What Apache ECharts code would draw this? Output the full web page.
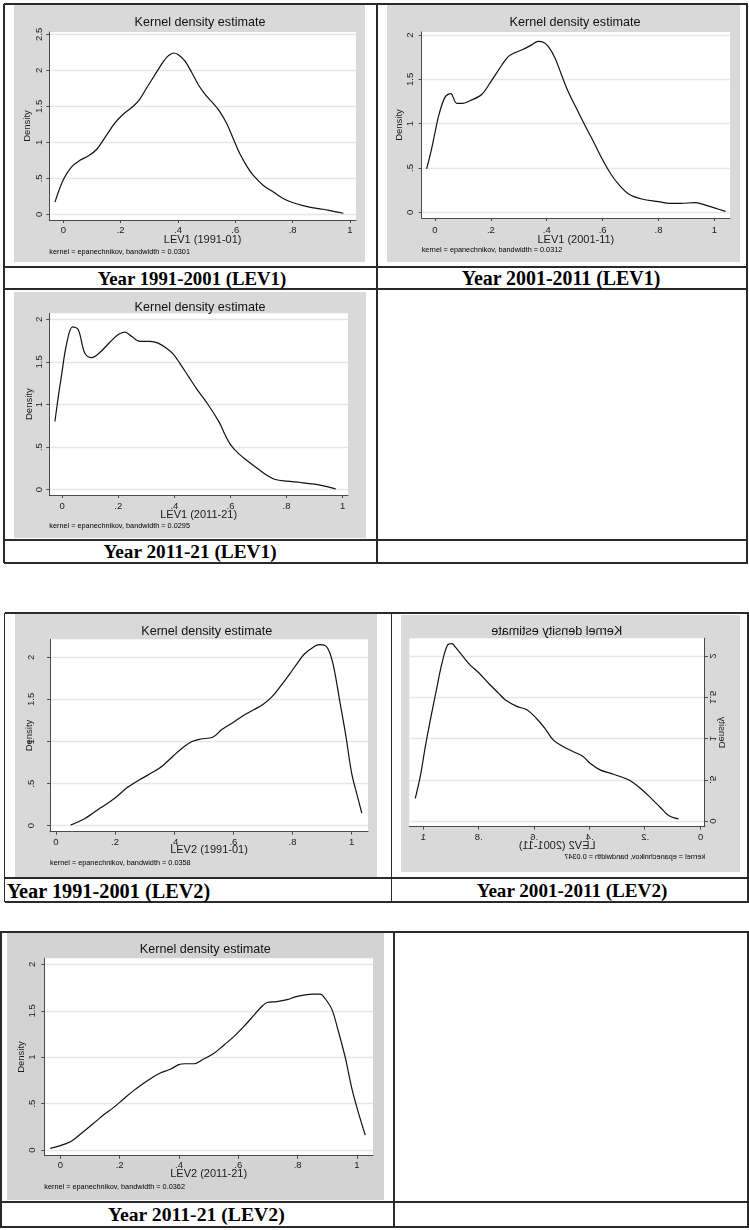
<!DOCTYPE html>
<html>
<head>
<meta charset="utf-8">
<title>Kernel density estimates of LEV1 and LEV2</title>
<script src="https://cdn.jsdelivr.net/npm/echarts@6/dist/echarts.min.js"></script>
<style>
  html, body { margin: 0; padding: 0; background: #fff; }
  body { width: 749px; height: 1230px; position: relative; overflow: hidden; }
  .panel { position: absolute; }
  .rule { position: absolute; background: #2a2a2a; }
  .cap {
    position: absolute; white-space: nowrap; line-height: 1; color: #000;
    font-family: "Liberation Serif", "Times New Roman", serif; font-weight: bold;
  }
</style>
</head>
<body>
<script>
// ---- shared axis ticks ----
const xTicks = [0, 0.2, 0.4, 0.6, 0.8, 1];
const yTicks25 = [0, 0.5, 1, 1.5, 2, 2.5];
const yTicks20 = [0, 0.5, 1, 1.5, 2];

// ---- LEV1, 1991-01 ----
const lev1_9101_x = [-0.029, 0, 0.029, 0.058, 0.087, 0.116, 0.151, 0.18, 0.209, 0.244, 0.267, 0.29, 0.32, 0.349, 0.366, 0.384, 0.40, 0.424, 0.448, 0.471, 0.494, 0.523, 0.547, 0.57, 0.593, 0.616, 0.64, 0.663, 0.698, 0.733, 0.767, 0.802, 0.837, 0.872, 0.907, 0.942, 0.977];
const lev1_9101_y = [0.17, 0.48, 0.66, 0.75, 0.81, 0.90, 1.10, 1.27, 1.39, 1.50, 1.60, 1.75, 1.94, 2.12, 2.20, 2.24, 2.22, 2.13, 1.97, 1.80, 1.67, 1.54, 1.42, 1.26, 1.05, 0.84, 0.67, 0.54, 0.40, 0.31, 0.22, 0.16, 0.12, 0.09, 0.07, 0.04, 0.015];

// ---- LEV1, 2001-11 ----
const lev1_0111_x = [-0.03, -0.012, 0, 0.014, 0.036, 0.056, 0.078, 0.098, 0.125, 0.167, 0.203, 0.239, 0.263, 0.286, 0.316, 0.346, 0.37, 0.388, 0.406, 0.43, 0.453, 0.477, 0.507, 0.537, 0.567, 0.597, 0.626, 0.656, 0.692, 0.74, 0.8, 0.84, 0.88, 0.93, 0.96, 1.0, 1.04];
const lev1_0111_y = [0.49, 0.72, 0.90, 1.10, 1.30, 1.34, 1.23, 1.23, 1.26, 1.33, 1.49, 1.66, 1.76, 1.80, 1.84, 1.89, 1.93, 1.92, 1.87, 1.74, 1.55, 1.36, 1.17, 0.98, 0.80, 0.61, 0.45, 0.32, 0.21, 0.15, 0.12, 0.10, 0.10, 0.11, 0.09, 0.05, 0.01];

// ---- LEV1, 2011-21 ----
const lev1_1121_x = [-0.026, -0.014, -0.002, 0.015, 0.037, 0.057, 0.081, 0.105, 0.134, 0.17, 0.2, 0.224, 0.247, 0.277, 0.313, 0.342, 0.372, 0.396, 0.42, 0.45, 0.48, 0.52, 0.56, 0.58, 0.6, 0.63, 0.66, 0.7, 0.73, 0.76, 0.8, 0.85, 0.9, 0.94, 0.975];
const lev1_1121_y = [0.80, 1.09, 1.35, 1.70, 1.91, 1.88, 1.60, 1.55, 1.61, 1.73, 1.82, 1.85, 1.80, 1.74, 1.74, 1.72, 1.66, 1.59, 1.48, 1.33, 1.18, 1.00, 0.79, 0.65, 0.53, 0.42, 0.34, 0.24, 0.17, 0.12, 0.10, 0.085, 0.065, 0.04, 0.01];

// ---- LEV2, 1991-01 ----
const lev2_9101_x = [0.05, 0.065, 0.1, 0.15, 0.2, 0.24, 0.28, 0.33, 0.36, 0.4, 0.43, 0.46, 0.49, 0.53, 0.56, 0.6, 0.63, 0.67, 0.70, 0.73, 0.76, 0.79, 0.82, 0.84, 0.87, 0.89, 0.91, 0.925, 0.94, 0.96, 0.98, 1.0, 1.02, 1.034];
const lev2_9101_y = [0.01, 0.03, 0.09, 0.21, 0.33, 0.45, 0.54, 0.64, 0.71, 0.84, 0.93, 1.00, 1.03, 1.05, 1.14, 1.23, 1.30, 1.38, 1.44, 1.53, 1.66, 1.80, 1.95, 2.04, 2.12, 2.15, 2.14, 2.06, 1.87, 1.47, 1.07, 0.62, 0.34, 0.15];

// ---- LEV2, 2001-11 ----
const lev2_0111_x = [1.029, 1.011, 0.993, 0.975, 0.954, 0.933, 0.913, 0.897, 0.885, 0.861, 0.831, 0.801, 0.765, 0.729, 0.705, 0.663, 0.627, 0.591, 0.561, 0.531, 0.495, 0.459, 0.423, 0.399, 0.363, 0.327, 0.291, 0.255, 0.219, 0.183, 0.147, 0.117, 0.08];
const lev2_0111_y = [0.275, 0.54, 0.90, 1.22, 1.57, 1.91, 2.13, 2.15, 2.11, 2.01, 1.89, 1.80, 1.67, 1.55, 1.47, 1.39, 1.35, 1.24, 1.12, 0.98, 0.90, 0.84, 0.78, 0.70, 0.62, 0.58, 0.54, 0.49, 0.40, 0.29, 0.17, 0.07, 0.025];

// ---- LEV2, 2011-21 ----
const lev2_1121_x = [-0.034, 0, 0.034, 0.056, 0.09, 0.124, 0.146, 0.18, 0.213, 0.247, 0.281, 0.309, 0.337, 0.371, 0.399, 0.421, 0.449, 0.483, 0.517, 0.551, 0.584, 0.618, 0.652, 0.674, 0.697, 0.73, 0.764, 0.792, 0.82, 0.854, 0.876, 0.893, 0.916, 0.938, 0.961, 0.983, 1.006, 1.028];
const lev2_1121_y = [0.018, 0.047, 0.09, 0.14, 0.23, 0.32, 0.38, 0.46, 0.55, 0.64, 0.72, 0.78, 0.83, 0.87, 0.92, 0.93, 0.93, 0.98, 1.04, 1.13, 1.22, 1.33, 1.45, 1.53, 1.59, 1.60, 1.62, 1.65, 1.67, 1.68, 1.68, 1.63, 1.51, 1.27, 0.99, 0.66, 0.39, 0.16];

// ---- panel texts ----
const plotTitle = 'Kernel density estimate';
const xTitles = ['LEV1 (1991-01)', 'LEV1 (2001-11)', 'LEV1 (2011-21)', 'LEV2 (1991-01)', 'LEV2 (2001-11)', 'LEV2 (2011-21)'];
const bandwidths = ['0.0301', '0.0312', '0.0295', '0.0358', '0.0347', '0.0362'];
const captions = ['Year 1991-2001 (LEV1)', 'Year 2001-2011 (LEV1)', 'Year 2011-21 (LEV1)', 'Year 1991-2001 (LEV2)', 'Year 2001-2011 (LEV2)', 'Year 2011-21 (LEV2)'];

const SANS = '"Liberation Sans", Arial, Helvetica, sans-serif';

function zip(xs, ys) { return xs.map((x, i) => [x, ys[i]]); }
function tickFmt(v) {
  if (v === 0) return '0';
  return String(+v.toFixed(2)).replace(/^0\./, '.');
}

// Layout of each graph: box = gray frame in page px, grid = plot region inside it.
// xlm/xng/ylm/yng: gaps of tick labels and axis titles from the axis lines.
const panels = [
  { xs: lev1_9101_x, ys: lev1_9101_y, box: [14, 5, 351, 257], bg: '#d9d9d9',
    grid: [35.3, 27, 306.7, 188], xr: [-0.0488, 1.021], yr: [-0.079, 2.532], yt: yTicks25,
    title: [186, 18], noteY: 247, xlm: 5, xng: 14.5, ylm: 4.5, yng: 16.5 },
  { xs: lev1_0111_x, ys: lev1_0111_y, box: [387, 5, 353, 257], bg: '#d9d9d9',
    grid: [34.7, 27, 308.3, 186], xr: [-0.0476, 1.056], yr: [-0.064, 2.035], yt: yTicks20,
    title: [188, 18], noteY: 245, xlm: 7, xng: 16.5, ylm: 6, yng: 17 },
  { xs: lev1_1121_x, ys: lev1_1121_y, box: [14, 292, 352, 246], bg: '#d9d9d9',
    grid: [35.3, 21.3, 298.7, 181.7], xr: [-0.046, 1.019], yr: [-0.062, 2.07], yt: yTicks20,
    title: [186, 16], noteY: 233.7, xlm: 6.5, xng: 14.5, ylm: 5.3, yng: 15.3 },
  { xs: lev2_9101_x, ys: lev2_9101_y, box: [15, 614, 362, 263], bg: '#d9d9d9',
    grid: [35, 25.3, 318, 192.4], xr: [-0.02, 1.055], yr: [-0.071, 2.214], yt: yTicks20,
    title: [191.7, 17.7], noteY: 248.7, xlm: 5.5, xng: 13, ylm: 13.5, yng: 15.3 },
  { xs: lev2_0111_x, ys: lev2_0111_y, box: [401, 615, 339, 257], bg: '#d9d9d9', mirror: true,
    grid: [35, 23.3, 295.7, 188.4], xr: [-0.0155, 1.0505], yr: [-0.069, 2.215], yt: yTicks20,
    title: [183.3, 16.7], noteY: 242.3, xlm: 5.5, xng: 14, ylm: 3, yng: 11.3 },
  { xs: lev2_1121_x, ys: lev2_1121_y, box: [6.7, 933, 376.7, 267], bg: '#d3d3d3',
    grid: [37.3, 25.3, 328.7, 197.4], xr: [-0.054, 1.054], yr: [-0.061, 2.066], yt: yTicks20,
    title: [198.3, 17], noteY: 253.7, xlm: 5, xng: 13, ylm: 6.5, yng: 17.5 }
];

function drawPanel(p, i) {
  const div = document.createElement('div');
  div.className = 'panel';
  div.style.left = p.box[0] + 'px';
  div.style.top = p.box[1] + 'px';
  div.style.width = p.box[2] + 'px';
  div.style.height = p.box[3] + 'px';
  div.style.background = p.bg;
  if (p.mirror) div.style.transform = 'scaleX(-1)';
  document.body.appendChild(div);

  const chart = echarts.init(div, null, { renderer: 'canvas' });
  const axisCol = '#4a4a4a';
  chart.setOption({
    animation: false,
    backgroundColor: p.bg,
    grid: {
      left: p.grid[0], top: p.grid[1], width: p.grid[2], height: p.grid[3],
      show: true, backgroundColor: '#ffffff', borderWidth: 0,
      containLabel: false, outerBoundsMode: 'none'
    },
    xAxis: {
      type: 'value', min: p.xr[0], max: p.xr[1],
      name: xTitles[i], nameLocation: 'middle', nameGap: p.xng, nameMoveOverlap: false,
      nameTextStyle: { fontFamily: SANS, fontSize: 11, color: '#1a1a1a' },
      axisLine: { show: true, onZero: false, lineStyle: { color: axisCol, width: 1 } },
      axisTick: { show: true, length: 3, customValues: xTicks, lineStyle: { color: axisCol } },
      axisLabel: { customValues: xTicks, formatter: tickFmt, fontFamily: SANS, fontSize: 9.5, color: '#1a1a1a', margin: p.xlm, hideOverlap: false },
      splitLine: { show: false }
    },
    yAxis: {
      type: 'value', min: p.yr[0], max: p.yr[1],
      name: 'Density', nameLocation: 'middle', nameGap: p.yng, nameMoveOverlap: false,
      nameTextStyle: { fontFamily: SANS, fontSize: 9.5, color: '#1a1a1a' },
      axisLine: { show: true, onZero: false, lineStyle: { color: axisCol, width: 1 } },
      axisTick: { show: true, length: 3, customValues: p.yt, lineStyle: { color: axisCol } },
      axisLabel: { customValues: p.yt, formatter: tickFmt, rotate: 90, fontFamily: SANS, fontSize: 9.5, color: '#1a1a1a', margin: p.ylm, hideOverlap: false },
      splitLine: { show: true, lineStyle: { color: '#e6e6e6', width: 1.3 } }
    },
    graphic: [
      { type: 'text', x: p.title[0], y: p.title[1], silent: true,
        style: { text: plotTitle, fontFamily: SANS, fontSize: 12.6, fill: '#111', align: 'center', verticalAlign: 'middle' } },
      { type: 'text', x: p.grid[0], y: p.noteY, silent: true,
        style: { text: 'kernel = epanechnikov, bandwidth = ' + bandwidths[i], fontFamily: SANS, fontSize: 7.3, fill: '#000', align: 'left', verticalAlign: 'middle' } }
    ],
    series: [{
      type: 'line', data: zip(p.xs, p.ys), smooth: 0.35,
      symbol: 'none', showSymbol: false,
      lineStyle: { color: '#111', width: 1.2 }
    }]
  });
}
panels.forEach(drawPanel);

// ---- table rules ----
function hline(x1, x2, y) {
  const d = document.createElement('div');
  d.className = 'rule';
  d.style.left = x1 + 'px'; d.style.top = (y - 0.75) + 'px';
  d.style.width = (x2 - x1) + 'px'; d.style.height = '1.5px';
  document.body.appendChild(d);
}
function vline(x, y1, y2) {
  const d = document.createElement('div');
  d.className = 'rule';
  d.style.left = (x - 0.75) + 'px'; d.style.top = y1 + 'px';
  d.style.width = '1.5px'; d.style.height = (y2 - y1) + 'px';
  document.body.appendChild(d);
}
[4, 267, 289, 540, 563].forEach(y => hline(4, 747.5, y));
[4, 377, 747].forEach(x => vline(x, 4, 563));
[613, 878, 902].forEach(y => hline(4.5, 748.5, y));
[4.5, 391.5, 748].forEach(x => vline(x, 613, 902));
[932, 1202, 1227].forEach(y => hline(0, 749, y));
[0.75, 394, 748].forEach(x => vline(x, 932, 1227));

// ---- table captions ----
function caption(text, x, y, size, align) {
  const d = document.createElement('div');
  d.className = 'cap';
  d.textContent = text;
  d.style.fontSize = size + 'px';
  d.style.left = x + 'px';
  d.style.top = y + 'px';
  d.style.transform = align === 'left' ? 'translateY(-50%)' : 'translate(-50%, -50%)';
  document.body.appendChild(d);
}
caption(captions[0], 192, 278.5, 18.8);
caption(captions[1], 561, 278.5, 19.9);
caption(captions[2], 190, 552, 19.3);
caption(captions[3], 6.7, 890.5, 20.3, 'left');
caption(captions[4], 572, 890.5, 19.1);
caption(captions[5], 196.3, 1215, 19.7);
</script>
</body>
</html>
